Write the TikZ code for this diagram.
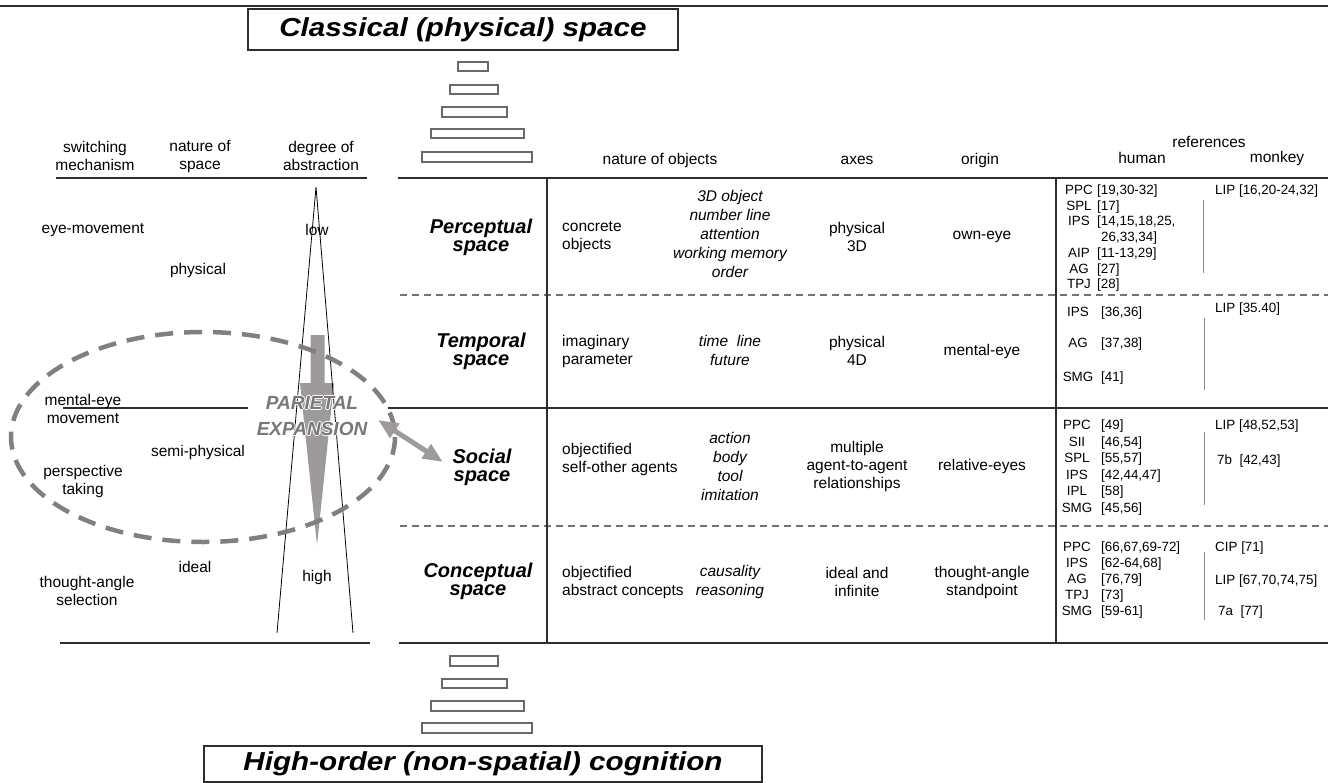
\documentclass[tikz,border=0pt]{standalone}
\usepackage{fontspec}
\setmainfont{Liberation Sans}
\usepackage{graphicx}
\usetikzlibrary{arrows.meta}
\definecolor{linec}{RGB}{45,45,45}
\definecolor{dashc}{RGB}{115,115,115}
\definecolor{ellc}{RGB}{128,128,128}
\definecolor{arrc}{RGB}{158,154,154}
\definecolor{partc}{RGB}{120,120,120}
\definecolor{stackc}{RGB}{105,105,105}
\definecolor{refline}{RGB}{140,140,140}
\newcommand\txtA{\fontsize{15.5}{18}\selectfont}
\newcommand\txtI{\fontsize{15.5}{19}\selectfont\itshape}
\newcommand\txtB{\fontsize{20}{18}\selectfont\bfseries\itshape}
\newcommand\txtR{\fontsize{13.4}{15.5}\selectfont}
\newcommand\txtT{\fontsize{26}{30}\selectfont\bfseries\itshape}
\newcommand\txtP{\fontsize{19}{26}\selectfont\bfseries\itshape}
\newcommand\myhalo[1]{\leavevmode\rlap{\textcolor{white}{\hspace*{1pt}#1}}\rlap{\textcolor{white}{\hspace*{-1pt}#1}}\rlap{\textcolor{white}{\raisebox{1pt}{#1}}}\rlap{\textcolor{white}{\raisebox{-1pt}{#1}}}\textcolor{partc}{#1}}
\tikzset{
  txt/.style={inner sep=0pt, font=\txtA, align=center},
  txtl/.style={inner sep=0pt, font=\txtA, align=left, anchor=west},
  ital/.style={inner sep=0pt, font=\txtI, align=center},
  rowlab/.style={inner sep=0pt, font=\txtB, align=center},
  refab/.style={inner sep=0pt, font=\txtR, anchor=base},
  refbr/.style={inner sep=0pt, font=\txtR, anchor=base west},
  hline/.style={draw=linec, line width=1.8pt},
  vline/.style={draw=linec, line width=1.2pt},
  dline/.style={draw=dashc, line width=1.3pt, dash pattern=on 7pt off 5pt},
  stackbox/.style={draw=stackc, line width=1.1pt},
  monkline/.style={draw=refline, line width=1pt},
  titlebox/.style={draw=linec, line width=1.6pt, inner sep=0pt, font=\txtT},
}
\begin{document}
\begin{tikzpicture}[x=1pt,y=-1pt]
\useasboundingbox (0,0) rectangle (1328,782);
% top rule
\draw[line width=2.5pt, linec] (0,6) -- (1328,6);
% titles
\node[titlebox, minimum width=430pt, minimum height=41pt] (ttop) at (463,29.5) {\scalebox{1.14}[1]{Classical (physical) space}};
\node[titlebox, minimum width=558pt, minimum height=36pt] (tbot) at (483,764) {\scalebox{1.14}[1]{High-order (non-spatial) cognition}};
% stacks
\foreach \xa/\ya/\xb/\yb in {458/62/488/71, 450/85/498/94, 442/107/507/117, 431/129/524/138, 422/152/532/162,
  450/656/498/666, 442/679/507/688, 431/701/524/711, 422/723/532/733}
  \draw[stackbox] (\xa,\ya) rectangle (\xb,\yb);
% horizontal rules
\draw[hline] (56,178) -- (367,178);
\draw[hline] (398,178) -- (1328,178);
\draw[dline] (400,295) -- (1328,295);
\draw[line width=1.4pt, linec] (63,408) -- (248,408);
\draw[line width=1.4pt, linec] (388,408) -- (1328,408);
\draw[dline] (400,526) -- (1328,526);
\draw[hline] (60,643) -- (370,643);
\draw[hline] (399,643) -- (1328,643);
% vertical rules
\draw[vline] (547,178) -- (547,643);
\draw[vline] (1056,178) -- (1056,643);
% monkey separators
\draw[monkline] (1203,200) -- (1203,273);
\draw[monkline] (1204,318) -- (1204,390);
\draw[monkline] (1204,432) -- (1204,505);
\draw[monkline] (1204,552) -- (1204,620);
% headers
\node[txt] (hsw) at (95,156) {switching\\mechanism};
\node[txt] (hns) at (200,156) {nature of\\space};
\node[txt] (hda) at (321,156) {degree of\\abstraction};
\node[txt] (hno) at (660,160) {nature of objects};
\node[txt] (hax) at (857,160) {axes};
\node[txt] (hor) at (980,160) {origin};
\node[txt] (href) at (1209,142) {references};
\node[txt] (hhu) at (1142,158) {human};
\node[txt] (hmo) at (1277,158) {monkey};
% left column: abstraction wedge and arrow
\fill[arrc] (310.5,335) -- (324.5,335) -- (324.5,383) -- (334,383) -- (317,545) -- (300,383) -- (310.5,383) -- cycle;
\draw[line width=0.8pt, black] (277,633) -- (316,187) -- (353,633);
\node[txt] (eyem) at (93,230) {eye-movement};
\node[txt] (phys) at (198,270) {physical};
\node[txt] (low) at (317,230) {low};
\node[txt] (meye) at (83,409) {mental-eye\\movement};
\node[txt] (semi) at (198,452) {semi-physical};
\node[txt] (persp) at (83,481) {perspective\\taking};
\node[txt] (ideal) at (195,567) {ideal};
\node[txt] (thsel) at (87,591) {thought-angle\\selection};
\node[txt] (high) at (317,577) {high};
\node[inner sep=0pt, font=\txtP, align=center] (pariet) at (312,416) {\myhalo{PARIETAL}\\\myhalo{EXPANSION}};
\draw[ellc, line width=4.5pt, dash pattern=on 18pt off 11pt] (203,437) ellipse [x radius=192, y radius=105];
% row labels
\node[rowlab] (lper) at (481,237) {Perceptual\\space};
\node[rowlab] (ltem) at (481,351) {Temporal\\space};
\node[rowlab] (lsoc) at (482,467) {Social\\space};
\node[rowlab] (lcon) at (478,581) {Conceptual\\space};
% double arrow
\coordinate (pe) at (378,420);
\coordinate (se) at (443,462);
\draw[arrc, line width=5pt, {Triangle[length=20pt,width=16pt]}-{Triangle[length=20pt,width=16pt]}] (pe) -- (se);
% perceptual row
\node[txtl] (c1a) at (562,237) {concrete\\objects};
\node[ital] (c2a) at (730,234) {3D object\\number line\\attention\\working memory\\order};
\node[txt] (c3a) at (857,237) {physical\\3D};
\node[txt] (c4a) at (982,237) {own-eye};
% temporal row
\node[txtl] (c1b) at (562,351) {imaginary\\parameter};
\node[ital] (c2b) at (730,350) {time\ \ line\\future};
\node[txt] (c3b) at (857,351) {physical\\4D};
\node[txt] (c4b) at (982,351) {mental-eye};
% social row
\node[txtl] (c1c) at (562,459) {objectified\\self-other agents};
\node[ital] (c2c) at (730,466) {action\\body\\tool\\imitation};
\node[txt] (c3c) at (857,466) {multiple\\agent-to-agent\\relationships};
\node[txt] (c4c) at (982,466) {relative-eyes};
% conceptual row
\node[txtl] (c1d) at (562,582) {objectified\\abstract concepts};
\node[ital] (c2d) at (730,582) {causality\\reasoning};
\node[txt] (c3d) at (857,582) {ideal and\\infinite};
\node[txt] (c4d) at (982,582) {thought-angle\\standpoint};
% references: perceptual
\foreach \n/\yy/\ab/\br in {1/190/PPC/{[19,30-32]}, 2/205.7/SPL/{[17]}, 3/221.4/IPS/{[14,15,18,25,}, 4/252.8/AIP/{[11-13,29]}, 5/268.5/AG/{[27]}, 6/284/TPJ/{[28]}}{
  \node[refab] (pa\n) at (1079,\yy+4.5) {\ab};
  \node[refbr] (pb\n) at (1097,\yy+4.5) {\br};
}
\node[refbr] (pb7) at (1101,241.6) {26,33,34]};
\node[refbr] (pm1) at (1215,194.5) {LIP [16,20-24,32]};
% references: temporal
\foreach \n/\yy/\ab/\br in {1/312/IPS/{[36,36]}, 2/343/AG/{[37,38]}, 3/377/SMG/{[41]}}{
  \node[refab] (ta\n) at (1078,\yy+4.5) {\ab};
  \node[refbr] (tb\n) at (1101,\yy+4.5) {\br};
}
\node[refbr] (tm1) at (1215,312.5) {LIP [35.40]};
% references: social
\foreach \n/\yy/\ab/\br in {1/425/PPC/{[49]}, 2/441.5/SII/{[46,54]}, 3/458/SPL/{[55,57]}, 4/474.5/IPS/{[42,44,47]}, 5/491/IPL/{[58]}, 6/507.5/SMG/{[45,56]}}{
  \node[refab] (sa\n) at (1077,\yy+4.5) {\ab};
  \node[refbr] (sb\n) at (1101,\yy+4.5) {\br};
}
\node[refbr] (sm1) at (1215,429.5) {LIP [48,52,53]};
\node[refbr] (sm2) at (1217,464.5) {7b\ \ [42,43]};
% references: conceptual
\foreach \n/\yy/\ab/\br in {1/547/PPC/{[66,67,69-72]}, 2/563/IPS/{[62-64,68]}, 3/579/AG/{[76,79]}, 4/595/TPJ/{[73]}, 5/611/SMG/{[59-61]}}{
  \node[refab] (ka\n) at (1077,\yy+4.5) {\ab};
  \node[refbr] (kb\n) at (1101,\yy+4.5) {\br};
}
\node[refbr] (km1) at (1215,551.5) {CIP [71]};
\node[refbr] (km2) at (1215,584.5) {LIP [67,70,74,75]};
\node[refbr] (km3) at (1218,615.5) {7a\ \ [77]};
\end{tikzpicture}
\end{document}
